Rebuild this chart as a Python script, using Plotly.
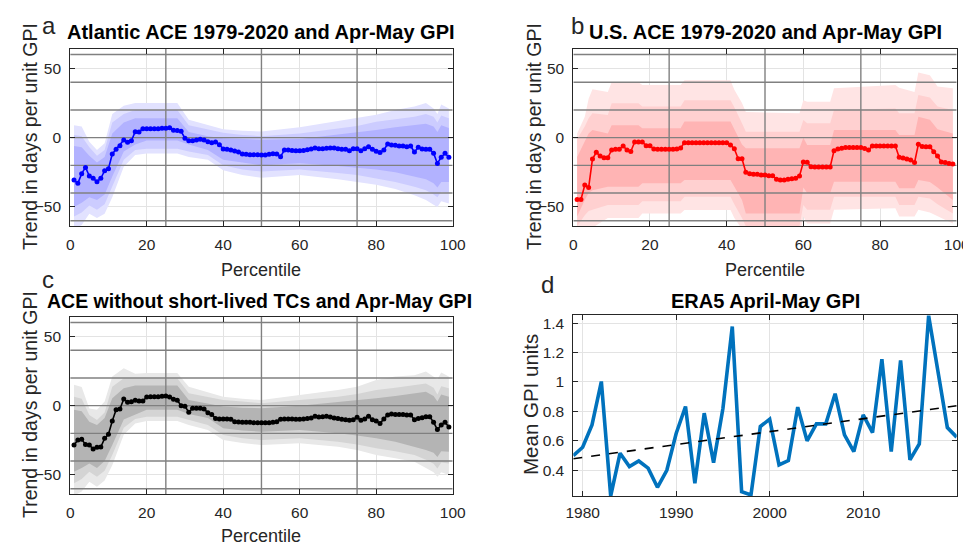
import numpy as np
import plotly.graph_objects as go

# ---------------- data ----------------
pct = list(range(1, 100))

ace_atlantic = [
    -30.6, -33, -26, -21.5, -27.7, -29.4, -31.8, -29.4, -23.9, -22.4,
    -11.8, -8.4, -5.8, -1.7, -3.4, -2.2, 4.3, 4.1, 6.5, 6.5,
    6.5, 6.5, 6.5, 6.7, 6.7, 7.2, 5.3, 5.1, 4.6, -0.5,
    -2.2, -2.2, -1.7, -1.2, -1.7, -2.9, -3.6, -3.1, -5.1, -8.2,
    -8.4, -8.9, -9.6, -10.4, -11.8, -12, -12.3, -12.3, -12.3, -12.5,
    -12.5, -12, -11.6, -11.8, -13.7, -8.9, -8.9, -9.2, -9.4, -9.4,
    -9.2, -8.7, -8.2, -7.5, -8, -8, -7.7, -7.5, -7.5, -8,
    -8.4, -8.4, -9.4, -8, -8, -9.4, -8, -6.5, -8.4, -9.9,
    -10.8, -8.9, -4.6, -5.3, -5.5, -6, -6, -6.5, -6, -10.4,
    -7, -8.2, -8.4, -8.4, -11.3, -18.6, -14.2, -11.3, -14.2]

ace_us = [
    -44.6, -44.6, -34.2, -36, -15.4, -10.6, -13.3, -14.5, -14.5, -8.9,
    -8.4, -8.4, -6, -8.9, -10, -3.1, -3.1, -3.1, -5.8, -5.8,
    -8.2, -8.4, -8.4, -8.4, -8.4, -8.4, -8.2, -7.5, -3.6, -3.6,
    -3.6, -3.6, -3.6, -3.6, -3.6, -3.6, -3.6, -3.6, -3.6, -3.6,
    -5.3, -8, -15.2, -15.2, -25, -26, -26.5, -26.5, -27, -27,
    -27.5, -27.5, -30.1, -30.6, -30.6, -30.1, -29.6, -29.4, -27.7, -17.6,
    -17.8, -21, -21.2, -21.2, -21.2, -21.2, -21.2, -9.4, -8.2, -7.7,
    -7.2, -7.2, -7.2, -7.2, -7.2, -7.9, -8.9, -6, -6, -6,
    -6, -6, -6, -6, -14.2, -14.7, -15.4, -16.1, -18, -4.8,
    -6.3, -6.5, -6.5, -10.1, -13.3, -17.6, -18, -18.6, -19]

ace_long = [
    -28.4, -24.8, -24.3, -28, -28.4, -31.3, -30.1, -29.9, -23.6, -20.7,
    -11.1, -2.9, -2.4, 4.8, 2.4, 2.9, 3.9, 3.4, 3.4, 6.3,
    6.5, 6.5, 6.5, 6.7, 7, 6.3, 4.6, 3.9, 0, -0.5,
    -4.8, -1.9, -1.9, -1.9, -2.4, -5.1, -6.3, -9.2, -9.6, -9.6,
    -9.6, -9.9, -11.6, -11.8, -12, -12, -12, -12.3, -12.3, -12.3,
    -12.3, -12.3, -12, -11.6, -9.9, -9.6, -9.6, -9.6, -9.9, -9.9,
    -9.6, -9.2, -8.9, -7.7, -8.2, -8, -7.7, -8.2, -8.9, -9.2,
    -9.9, -10.1, -10.6, -10.1, -8.4, -10.6, -9.6, -7.7, -10.1, -11.1,
    -12.8, -9.6, -6.7, -6, -6.3, -6.3, -6.3, -6.7, -6.7, -10.1,
    -9.2, -8.7, -8, -8, -12, -17.3, -14, -12, -15.4]

# uncertainty bands (read at a coarser set of percentiles)
band_pct_a = [1, 3, 5, 7, 9, 11, 14, 17, 20, 28, 31, 36, 40, 45, 50, 60, 70, 75, 80, 85, 90, 93, 95, 96, 97, 99]
a_out_hi = [9, 8, -3, -9, -4, 17, 23, 25, 25, 25, 13, 9, 6, 5, 4.5, 7.5, 12, 14, 16.5, 20, 22.5, 25, 21, 17, 24, 21]
a_mid_hi = [2, 1, -7, -13, -9, 11, 17, 20, 20, 20, 9, 6, 3.5, 2, 1, 3, 6.5, 8.5, 11.5, 13.5, 15, 17, 15, 11, 16, 14]
a_in_hi = [-6, -7, -13, -18, -14, 3, 11, 14, 14, 14, 4, 1, -0.5, -1, -1.5, -1, 2, 3.5, 5.5, 7.5, 9, 10, 8, 4, 9, 7]
a_in_lo = [-50, -47, -43, -45, -41, -28, -10, -5, -2, -2, -5, -9, -16, -18, -20, -18.5, -20.5, -21.5, -23, -25, -28, -30, -33, -36, -32, -32]
a_mid_lo = [-57, -54, -49, -52, -48, -35, -16, -9, -8, -8, -10, -12.5, -20, -23, -24.5, -23, -25.5, -27, -29.5, -32, -35.5, -38, -41, -43, -39, -40]
a_out_lo = [-66, -63, -55, -58, -55, -43, -21, -12.5, -11.5, -11.5, -14, -16, -23.5, -27, -29, -27, -30, -32, -34, -37, -41.5, -45, -48.5, -50, -46, -47.5]

band_pct_b = [1, 3, 4, 5, 9, 10, 17, 18, 28, 29, 41, 42, 44, 45, 59, 60, 61, 67, 68, 84, 85, 89, 90, 93, 95, 99]
b_out_hi = [3, 15, 28, 35, 33, 40, 40, 38, 38, 41.5, 41.5, 34.5, 25, 18.5, 17.6, 27, 26, 26, 35.7, 38, 36, 33, 47, 45, 37, 35.7]
b_mid_hi = [-1, 8, 14, 17.6, 16.4, 24.8, 24.8, 22.4, 22.4, 27, 27, 22, 10.4, 4.3, 4.3, 12.8, 10.4, 10.4, 20, 21, 17.6, 17.6, 30.8, 29, 22.4, 20]
b_in_hi = [-14, -2, 3, 5.5, 3, 9, 9, 6.7, 6.7, 11.6, 11.6, 6, -5, -7.7, -7.7, 0, -5.3, -5.3, 5.5, 5.5, 2, 2, 15, 13, 6, 3]
b_in_lo = [-57, -45, -40, -38, -35.4, -35.4, -35.4, -33, -33, -30.6, -30.6, -35, -45, -54.7, -54.7, -36, -40, -40, -31.8, -31.8, -36.6, -36.6, -30.6, -32, -36, -45]
b_mid_lo = [-64, -56, -53, -52, -48.7, -48.7, -48.7, -46, -46, -42.6, -42.6, -48, -58, -64, -64, -48.7, -52, -52, -42.6, -42.6, -48.7, -48.7, -42.6, -44, -48, -54.7]
b_out_lo = [-70, -68, -66, -65, -58, -58, -58, -54.7, -54.7, -52.3, -52.3, -58, -66, -72, -72, -57, -62, -62, -52, -51, -57, -57, -52, -54, -57, -62]

band_pct_c = band_pct_a
c_out_hi = [15, 13.5, -2, -3, 3, 21, 27, 23, 23.5, 23.5, 13.7, 10, 6.5, 5, 4, 7.7, 11.3, 13.7, 18.6, 21, 22, 24.6, 21, 19, 24, 21]
c_mid_hi = [6.5, 5, -6.7, -10.4, -5, 13.7, 19.8, 19.8, 19.8, 19.8, 9, 6, 4, 3, 1.7, 4, 6.5, 8.5, 11.3, 13, 15, 16, 13, 8, 14, 12.5]
c_in_hi = [-3, -4, -11.6, -14, -9, 5.3, 12.5, 14.5, 14.5, 14.5, 4, 1.5, -0.7, -1.5, -1.9, 0, 2.4, 3.8, 5.3, 7, 9, 10, 7, 3, 8, 6.5]
c_in_lo = [-47.7, -45, -41.7, -45, -40, -28.4, -10, -6.7, -3, -3, -6, -9, -16.4, -18, -18.8, -17.6, -20, -21.5, -23.6, -26, -29.6, -32, -34, -37, -33, -33.3]
c_mid_lo = [-56, -53, -47.7, -51.3, -47, -35.7, -16, -9.6, -8, -8, -10, -14, -21.2, -23.5, -24.8, -23.6, -26, -28, -30.8, -33, -35.7, -39, -42, -45.3, -41, -41.7]
c_out_lo = [-65, -62, -55, -58.5, -54, -43, -21, -12.8, -11, -11, -14, -17.6, -24.8, -27, -28.4, -27.2, -29.6, -32, -35.7, -38, -40.5, -45, -48, -51.3, -48, -50]

years = list(range(1979, 2021))
gpi = [
    0.50, 0.556, 0.708, 1.003, 0.225, 0.516, 0.425, 0.463, 0.414, 0.284,
    0.40, 0.65, 0.833, 0.312, 0.788, 0.452, 0.82, 1.377, 0.255, 0.232,
    0.697, 0.747, 0.436, 0.466, 0.829, 0.60, 0.715, 0.715, 0.92, 0.64,
    0.527, 0.776, 0.656, 1.155, 0.527, 1.146, 0.47, 0.579, 1.45, 1.06,
    0.69, 0.625]

pct_ticks = [0, 20, 40, 60, 80, 100]
trend_ticks = [-50, 0, 50]
ref_x = [25, 50, 75]
ref_y = [-60, -40, -20, 0, 20, 40, 60]
year_ticks = [1980, 1990, 2000, 2010]
gpi_ticks = [0.4, 0.6, 0.8, 1.0, 1.2, 1.4]
gpi_ticktext = ["0.4", "0.6", "0.8", "1", "1.2", "1.4"]

# ---------------- layout helpers ----------------
PAGE_OFF = 8                      # default body margin of the html page
W, H = 971 - PAGE_OFF, 549 - PAGE_OFF
FONT = "Liberation Sans, Arial, Helvetica, sans-serif"
AXC = "#262626"
YR = [-64, 64]


def px(x):
    return (x - PAGE_OFF) / W


def py(y):
    return 1 - (y - PAGE_OFF) / H


fig = go.Figure()


def add_bands(xa, ya, bx, levels, colors):
    for (hi, lo), col in zip(levels, colors):
        fig.add_trace(go.Scatter(
            x=list(bx) + list(bx)[::-1], y=list(hi) + list(lo)[::-1],
            fill="toself", fillcolor=col, mode="lines", line=dict(width=0),
            hoverinfo="skip", showlegend=False, xaxis=xa, yaxis=ya))


def add_ref_lines(xa, ya):
    xs, ys = [], []
    for v in ref_x:
        xs += [v, v, None]
        ys += [YR[0], YR[1], None]
    for v in ref_y:
        xs += [0, 100, None]
        ys += [v, v, None]
    fig.add_trace(go.Scatter(x=xs, y=ys, mode="lines",
                             line=dict(color="rgb(128,128,128)", width=1.4),
                             hoverinfo="skip", showlegend=False, xaxis=xa, yaxis=ya))


def add_series(xa, ya, y, col):
    fig.add_trace(go.Scatter(x=pct, y=y, mode="lines+markers",
                             line=dict(color=col, width=1.6),
                             marker=dict(color=col, size=5),
                             showlegend=False, xaxis=xa, yaxis=ya))


# panel a
add_bands("x", "y", band_pct_a,
          [(a_out_hi, a_out_lo), (a_mid_hi, a_mid_lo), (a_in_hi, a_in_lo)],
          ["rgb(226,226,255)", "rgb(204,204,255)", "rgb(178,178,255)"])
add_ref_lines("x", "y")
add_series("x", "y", ace_atlantic, "rgb(0,0,255)")

# panel b
add_bands("x2", "y2", band_pct_b,
          [(b_out_hi, b_out_lo), (b_mid_hi, b_mid_lo), (b_in_hi, b_in_lo)],
          ["rgb(255,228,228)", "rgb(255,208,208)", "rgb(255,180,180)"])
add_ref_lines("x2", "y2")
add_series("x2", "y2", ace_us, "rgb(255,0,0)")

# panel c
add_bands("x3", "y3", band_pct_c,
          [(c_out_hi, c_out_lo), (c_mid_hi, c_mid_lo), (c_in_hi, c_in_lo)],
          ["rgb(232,232,232)", "rgb(212,212,212)", "rgb(180,180,180)"])
add_ref_lines("x3", "y3")
add_series("x3", "y3", ace_long, "rgb(0,0,0)")

# panel d
coef = np.polyfit(years, gpi, 1)
trend = np.polyval(coef, years)
fig.add_trace(go.Scatter(x=years, y=gpi, mode="lines",
                         line=dict(color="#0072BD", width=3.6),
                         showlegend=False, xaxis="x4", yaxis="y4"))
fig.add_trace(go.Scatter(x=years, y=trend, mode="lines",
                         line=dict(color="black", width=1.6, dash="dash"),
                         showlegend=False, xaxis="x4", yaxis="y4"))

tickfont = dict(family=FONT, size=15.5, color=AXC)


def ax(domain, anchor, rng, tickvals, ticktext=None, standoff=4):
    d = dict(domain=domain, anchor=anchor, range=rng, tickvals=tickvals,
             ticks="inside", ticklen=5, tickcolor=AXC, showline=True, linecolor=AXC,
             linewidth=1, mirror="ticks", showgrid=True, gridcolor="rgb(227,227,227)",
             gridwidth=1, zeroline=False, tickfont=tickfont, ticklabelstandoff=standoff,
             automargin=False)
    if ticktext is not None:
        d["ticktext"] = ticktext
    return d


ax_a = [px(70.2), px(452.7)]
ax_b = [px(573.3), px(956.7)]
top_row = [py(226.3), py(49)]
c_row = [py(494.3), py(317)]
d_row = [py(496), py(315)]

fig.update_layout(
    template="none",
    width=W, height=H,
    margin=dict(l=0, r=0, t=0, b=0, pad=0),
    paper_bgcolor="white", plot_bgcolor="white",
    showlegend=False,
    font=dict(family=FONT, color=AXC),
    xaxis=ax(ax_a, "y", [0, 100], pct_ticks),
    yaxis=ax(top_row, "x", YR, trend_ticks, standoff=5),
    xaxis2=ax(ax_b, "y2", [0, 100], pct_ticks),
    yaxis2=ax(top_row, "x2", YR, trend_ticks, standoff=5),
    xaxis3=ax(ax_a, "y3", [0, 100], pct_ticks),
    yaxis3=ax(c_row, "x3", YR, trend_ticks, standoff=5),
    xaxis4=ax(ax_b, "y4", [1979, 2020], year_ticks, standoff=2),
    yaxis4=ax(d_row, "x4", [0.225, 1.455], gpi_ticks, gpi_ticktext, standoff=5),
)

ann = []


def text(x, y, s, size, color=AXC, angle=0, xanchor="center"):
    ann.append(dict(x=px(x), y=py(y), xref="paper", yref="paper", text=s,
                    showarrow=False, textangle=angle, xanchor=xanchor, yanchor="middle",
                    font=dict(family=FONT, size=size, color=color)))


# panel letters
text(40, 26, "a", 24, xanchor="left")
text(569, 26, "b", 24, xanchor="left")
text(40, 279, "c", 24, xanchor="left")
text(539, 284, "d", 24, xanchor="left")
# titles
text(261, 32, "<b>Atlantic ACE 1979-2020 and Apr-May GPI</b>", 20, "black")
text(765, 32, "<b>U.S. ACE 1979-2020 and Apr-May GPI</b>", 20, "black")
text(259, 301, "<b>ACE without short-lived TCs and Apr-May GPI</b>", 19.5, "black")
text(765, 301, "<b>ERA5 April-May GPI</b>", 20, "black")
# axis titles
text(261, 270, "Percentile", 18)
text(765, 270, "Percentile", 18)
text(261, 536, "Percentile", 18)
text(30, 137, "Trend in days per unit GPI", 19.5, angle=-90)
text(534, 137, "Trend in days per unit GPI", 19.5, angle=-90)
text(30, 405, "Trend in days per unit GPI", 19.5, angle=-90)
text(530, 405, "Mean GPI units", 20.5, angle=-90)

fig.update_layout(annotations=ann)
fig.write_html("out.html")
